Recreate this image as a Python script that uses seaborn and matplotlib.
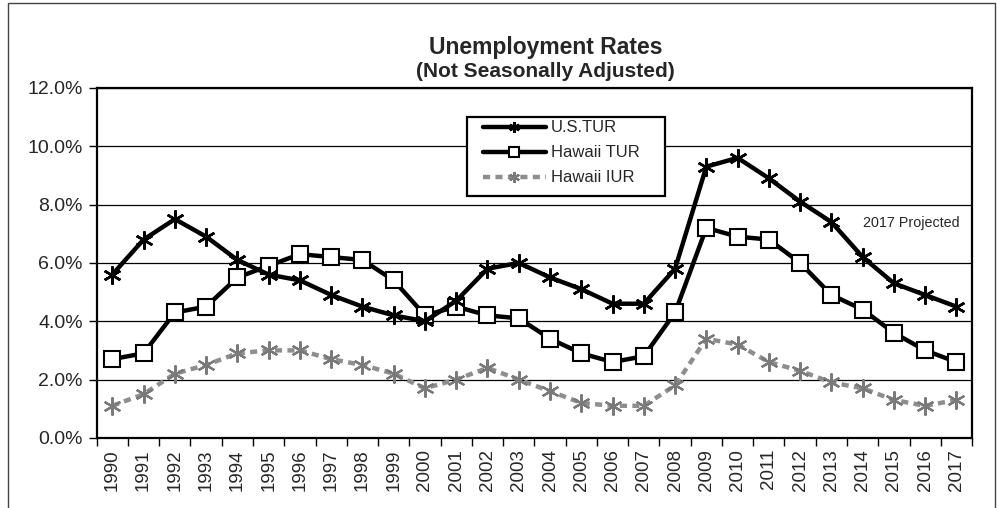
import matplotlib
matplotlib.use("Agg")
import matplotlib.pyplot as plt
import numpy as np
import pandas as pd
import seaborn as sns
from matplotlib.patches import Rectangle
from matplotlib.ticker import FixedLocator, PercentFormatter

years = list(range(1990, 2018))
us_tur = [5.6, 6.8, 7.5, 6.9, 6.1, 5.6, 5.4, 4.9, 4.5, 4.2, 4.0, 4.7, 5.8, 6.0,
          5.5, 5.1, 4.6, 4.6, 5.8, 9.3, 9.6, 8.9, 8.1, 7.4, 6.2, 5.3, 4.9, 4.5]
hawaii_tur = [2.7, 2.9, 4.3, 4.5, 5.5, 5.9, 6.3, 6.2, 6.1, 5.4, 4.2, 4.5, 4.2, 4.1,
              3.4, 2.9, 2.6, 2.8, 4.3, 7.2, 6.9, 6.8, 6.0, 4.9, 4.4, 3.6, 3.0, 2.6]
hawaii_iur = [1.1, 1.5, 2.2, 2.5, 2.9, 3.0, 3.0, 2.7, 2.5, 2.2, 1.7, 2.0, 2.4, 2.0,
              1.6, 1.2, 1.1, 1.1, 1.8, 3.4, 3.2, 2.6, 2.3, 1.9, 1.7, 1.3, 1.1, 1.3]
y_ticks = [0, 2, 4, 6, 8, 10, 12]

df = pd.DataFrame({"year": years, "U.S.TUR": us_tur,
                   "Hawaii TUR": hawaii_tur, "Hawaii IUR": hawaii_iur})

sns.set_style("white")
plt.rcParams["font.family"] = ["Liberation Sans", "DejaVu Sans"]

fig, ax = plt.subplots(figsize=(9.97, 5.08), dpi=100)
fig.subplots_adjust(left=0.097, right=0.975, top=0.827, bottom=0.138)

star = (6, 2, 0)
sns.lineplot(data=df, x="year", y="Hawaii IUR", ax=ax, color="#8e8e8e", lw=3.2,
             linestyle=(0, (1.6, 1.2)), marker=star, markersize=13,
             markeredgewidth=1.6, markeredgecolor="#7a7a7a", label="Hawaii IUR",
             zorder=3)
sns.lineplot(data=df, x="year", y="Hawaii TUR", ax=ax, color="black", lw=3.2,
             marker="s", markersize=12, markerfacecolor="white",
             markeredgecolor="black", markeredgewidth=1.5, label="Hawaii TUR",
             zorder=4)
sns.lineplot(data=df, x="year", y="U.S.TUR", ax=ax, color="black", lw=3.2,
             marker=star, markersize=13, markeredgewidth=1.8,
             markeredgecolor="black", label="U.S.TUR", zorder=5)

ax.set_xlim(years[0] - 0.5, years[-1] + 0.5)
ax.set_ylim(0, 12)
ax.set_yticks(y_ticks)
ax.yaxis.set_major_formatter(PercentFormatter(decimals=1))
ax.set_xticks(years)
ax.set_xticklabels([str(y) for y in years], rotation=90, fontsize=13.5)
ax.xaxis.set_minor_locator(FixedLocator(np.arange(years[0] - 0.5, years[-1] + 1, 1)))
ax.tick_params(axis="x", which="major", length=0, pad=8)
ax.tick_params(axis="x", which="minor", length=6, width=1, color="black", direction="out", bottom=True)
ax.tick_params(axis="y", length=6, width=1, color="black", direction="out", left=True,
               labelsize=14, pad=4)
ax.grid(axis="y", color="black", lw=0.9)
ax.set_axisbelow(True)
for s in ax.spines.values():
    s.set_color("black")
    s.set_linewidth(1.6)
ax.set_xlabel("")
ax.set_ylabel("")

# legend: entries placed without frame, box drawn separately (Excel-style padding)
handles, labels = ax.get_legend_handles_labels()
order = ["U.S.TUR", "Hawaii TUR", "Hawaii IUR"]
hmap = dict(zip(labels, handles))
leg = ax.legend([hmap[k] for k in order], order, loc="upper left",
                bbox_to_anchor=(0.441, 0.907), fontsize=12, frameon=False,
                handlelength=3.8, markerscale=0.6, labelspacing=0.6,
                borderpad=0, handletextpad=0.3, borderaxespad=0)
leg.set_zorder(8)
ax.add_patch(Rectangle((0.423, 0.691), 0.226, 0.226, transform=ax.transAxes,
                       facecolor="white", edgecolor="black", lw=1.6, zorder=7))

ax.text(2015.55, 7.37, "2017 Projected", fontsize=10.3, ha="center", va="center",
        bbox=dict(facecolor="white", edgecolor="none", pad=6), zorder=6)

fig.text(0.547, 0.907, "Unemployment Rates", ha="center", va="center",
         fontsize=16.5, fontweight="bold")
fig.text(0.547, 0.860, "(Not Seasonally Adjusted)", ha="center", va="center",
         fontsize=15, fontweight="bold")

fig.add_artist(Rectangle((0.008, -0.02), 0.99, 1.014, transform=fig.transFigure,
                         fill=False, edgecolor="#444444", lw=1))

fig.savefig("out.png", dpi=100)
